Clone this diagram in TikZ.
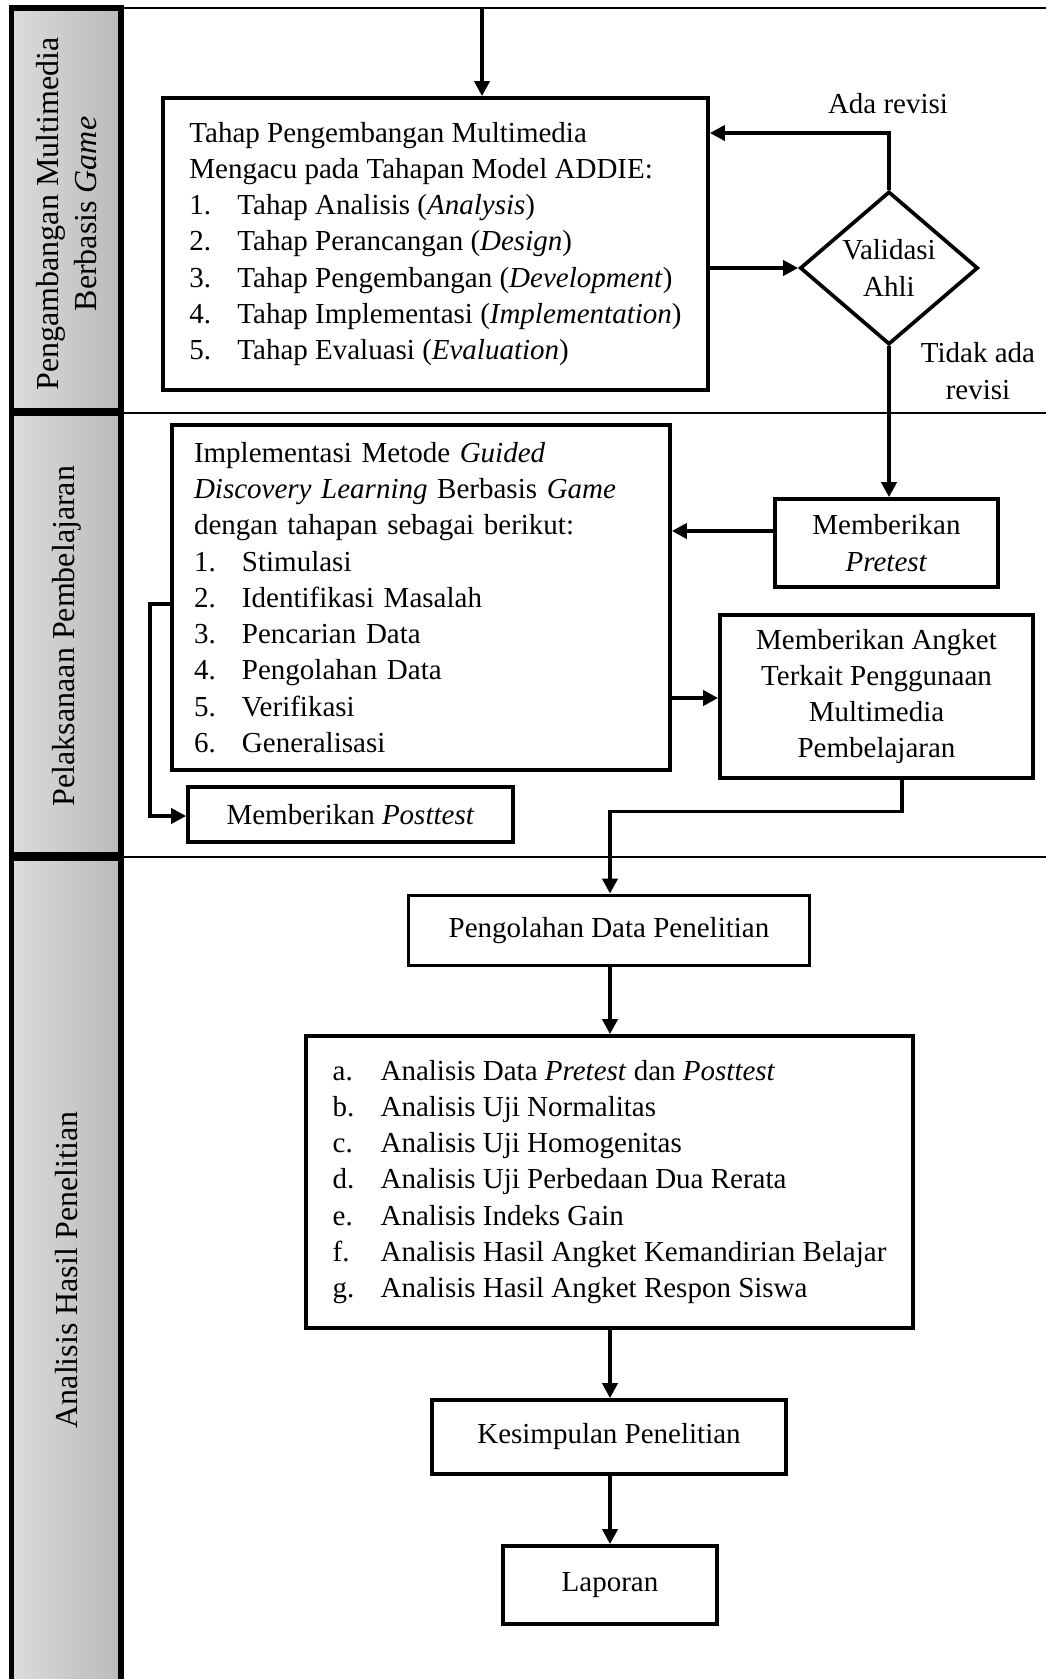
\documentclass[tikz,border=0pt]{standalone}
\usepackage{fontspec}
\setmainfont{Liberation Serif}
\usetikzlibrary{arrows.meta,shapes.geometric,calc}
\newcommand\myBody{\fontsize{29}{36.3}\selectfont}
\newcommand\myLane{\fontsize{32}{38}\selectfont}
\newcommand\myItem[2]{\makebox[48pt][l]{#1}#2}
\begin{document}
\begin{tikzpicture}[x=1pt,y=-1pt,
  box/.style={draw,line width=3.7pt,rectangle,inner sep=0pt,align=center,font=\myBody},
  dia/.style={draw,line width=3.7pt,diamond,inner sep=0pt,minimum width=178pt,minimum height=153pt},
  txt/.style={inner sep=0pt,align=center,font=\myBody},
  lanetxt/.style={inner sep=0pt,align=center,font=\myLane,rotate=90},
  lanehead/.style={draw,line width=5.5pt,left color=black!14,right color=black!27},
  laneline/.style={line width=1.8pt},
  arr/.style={line width=3.7pt,-{Triangle[length=15pt,width=15pt]}}
]
\useasboundingbox (0,0) rectangle (1046,1679);
\clip (0,0) rectangle (1046,1679);

% lane lines
\draw[laneline] (120,8) -- (1046,8);
\draw[laneline] (120,413) -- (1046,413);
\draw[laneline] (120,857) -- (1046,857);

% lane headers
\draw[lanehead] (11.5,8) rectangle (121,411);
\draw[lanehead] (11.5,413.5) rectangle (121,855);
\draw[lanehead] (11.5,858.5) rectangle (121,1700);
\node[lanetxt] (lane1) at (67,214) {Pengambangan Multimedia\\Berbasis \textit{Game}};
\node[lanetxt] (lane2) at (67,636) {Pelaksanaan Pembelajaran};
\node[lanetxt] (lane3) at (67,1270) {Analisis Hasil Penelitian};

% boxes
\node[box,minimum width=545pt,minimum height=292pt,align=left] (addie) at (435.5,244) {%
Tahap Pengembangan Multimedia\\
Mengacu pada Tahapan Model ADDIE:\\
\myItem{1.}{Tahap Analisis (\textit{Analysis})}\\
\myItem{2.}{Tahap Perancangan (\textit{Design})}\\
\myItem{3.}{Tahap Pengembangan (\textit{Development})}\\
\myItem{4.}{Tahap Implementasi (\textit{Implementation})}\\
\myItem{5.}{Tahap Evaluasi (\textit{Evaluation})}};

\node[dia] (val) at (889,268) {};
\node[txt] (valtxt) at (val) {Validasi\\Ahli};
\node[txt] (ada) at (888,104) {Ada revisi};
\node[txt] (tidak) at (978,371) {Tidak ada\\revisi};

\node[box,minimum width=223pt,minimum height=88pt] (pre) at (886.5,543) {Memberikan\\\textit{Pretest}};

\node[box,minimum width=498pt,minimum height=345pt,text width=454pt,align=left] (gdl) at (421,597.5) {%
Implementasi Metode \textit{Guided}\\
\textit{Discovery Learning} Berbasis \textit{Game}\\
dengan tahapan sebagai berikut:\\
\myItem{1.}{Stimulasi}\\
\myItem{2.}{Identifikasi Masalah}\\
\myItem{3.}{Pencarian Data}\\
\myItem{4.}{Pengolahan Data}\\
\myItem{5.}{Verifikasi}\\
\myItem{6.}{Generalisasi}};

\node[box,minimum width=313pt,minimum height=163pt] (ang) at (876.5,696.5) {Memberikan Angket\\Terkait Penggunaan\\Multimedia\\Pembelajaran};

\node[box,minimum width=325pt,minimum height=55pt] (post) at (350.5,814.5) {Memberikan \textit{Posttest}};

\node[box,minimum width=401pt,minimum height=70pt] (peng) at (609,930.5) {Pengolahan Data Penelitian};

\node[box,minimum width=607pt,minimum height=292pt,align=left] (anl) at (609.5,1182) {%
\myItem{a.}{Analisis Data \textit{Pretest} dan \textit{Posttest}}\\
\myItem{b.}{Analisis Uji Normalitas}\\
\myItem{c.}{Analisis Uji Homogenitas}\\
\myItem{d.}{Analisis Uji Perbedaan Dua Rerata}\\
\myItem{e.}{Analisis Indeks Gain}\\
\myItem{f.}{Analisis Hasil Angket Kemandirian Belajar}\\
\myItem{g.}{Analisis Hasil Angket Respon Siswa}};

\node[box,minimum width=354pt,minimum height=74pt] (kes) at (609,1437) {Kesimpulan Penelitian};
\node[box,minimum width=214pt,minimum height=78pt] (lap) at (610,1585) {Laporan};

% connectors
\coordinate (topin) at (482,8);
\draw[arr] (topin) -- (topin |- addie.north);
\draw[arr] (val.north) -- (val.north |- 0,133) -- (addie.east |- 0,133);
\draw[arr] (addie.east |- val.west) -- (val.west);
\draw[arr] (val.south) -- (val.south |- pre.north);
\draw[arr] (pre.west |- 0,531) -- (gdl.east |- 0,531);
\draw[arr] (gdl.east |- 0,698) -- (ang.west |- 0,698);
\draw[arr] (ang.south -| 902,0) -- (902,811.5) -- (610,811.5) -- (610,0 |- peng.north);
\draw[arr] (gdl.west |- 0,604) -- (150,604) -- (150,816) -- (post.west |- 0,816);
\draw[arr] (peng.south -| 610,0) -- (610,0 |- anl.north);
\draw[arr] (anl.south -| 610,0) -- (610,0 |- kes.north);
\draw[arr] (kes.south -| 610,0) -- (610,0 |- lap.north);
\end{tikzpicture}
\end{document}
